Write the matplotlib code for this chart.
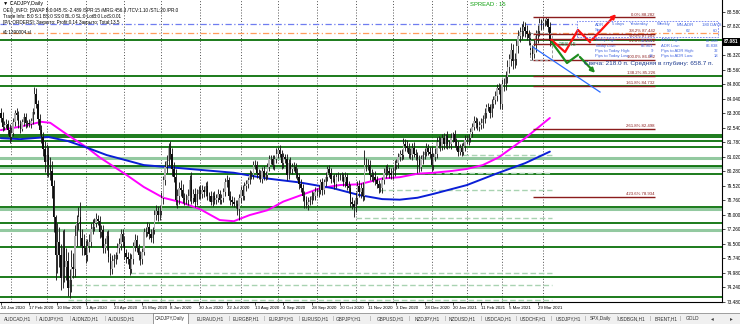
import matplotlib
matplotlib.use('Agg')
import matplotlib.pyplot as plt
import numpy as np
import pandas as pd
from matplotlib.patches import Rectangle

plt.rcParams['font.family'] = ['Liberation Sans', 'DejaVu Sans']

W, H = 740, 324

# ---------------- data ----------------
first_open = 83.30
closes = [
    83.05, 82.60, 82.70, 82.75, 82.45, 82.05,
    82.25, 82.85, 83.30, 83.20, 82.75, 82.50, 82.85, 83.10, 82.80, 82.80, 82.75, 82.90, 83.35, 84.30, 83.80, 83.00, 82.40, 82.05, 81.45, 80.75,
    81.10, 80.60, 80.30, 79.50, 77.90, 75.90, 76.60, 75.90, 74.70, 76.30, 75.30, 75.60, 74.20, 74.60, 75.30, 75.20, 76.90, 77.60, 77.90, 76.80, 76.40, 76.30,
    75.90, 76.40, 76.60, 77.30, 77.40, 77.60, 77.80, 77.70, 77.10, 77.20, 76.30, 76.50, 76.90, 75.80, 75.20, 75.60, 75.70, 75.90, 76.30, 76.50, 77.00, 76.60,
    76.00, 75.80, 75.70, 75.20, 75.70, 76.40, 76.70, 76.30, 75.90, 75.70, 76.10, 77.10, 77.10, 77.40, 77.00, 76.80, 77.20, 78.00, 78.20, 78.00, 78.20,
    78.90, 79.80, 80.50, 80.80, 81.50, 81.20, 80.40, 80.00, 78.80, 79.00, 79.40, 79.30, 78.90, 78.80, 78.80, 79.00, 79.80, 78.90, 79.10, 78.70, 79.10, 79.30,
    79.10, 79.30, 79.20, 79.50, 79.00, 79.00, 78.70, 79.00, 78.80, 78.90, 79.10, 78.80, 78.90, 79.20, 79.70, 79.80, 79.00, 78.80, 78.70, 78.60, 78.60, 78.30, 78.90,
    79.30, 79.00, 79.50, 79.60, 79.80, 80.10, 80.10, 80.60, 80.60, 80.20, 80.10, 79.90, 80.30, 80.00, 80.10, 80.50, 80.90, 80.90, 80.60, 80.90, 81.20,
    81.40, 81.20, 80.70, 81.00, 80.90, 80.10, 80.70, 80.40, 80.50, 80.50, 80.20, 80.00, 79.60, 79.40, 79.00, 78.80, 78.50, 78.70, 78.80, 79.00, 79.00, 79.20,
    79.20, 79.30, 79.70, 79.30, 79.70, 80.00, 80.40, 80.20, 79.90, 79.90, 79.60, 80.00, 80.00, 80.00, 80.00, 79.70, 80.00, 79.50, 79.40, 78.70, 78.60, 78.40,
    78.90, 79.50, 79.20, 79.40, 79.00, 80.60, 80.60, 80.60, 80.10, 80.00, 80.00, 79.80, 79.60, 79.40, 79.40, 79.80, 80.20, 80.40, 80.30, 80.20, 80.10,
    80.30, 80.60, 80.70, 81.00, 81.20, 81.10, 81.70, 81.60, 81.50, 81.20, 81.10, 81.50, 81.20, 81.10, 80.90, 80.50, 80.90, 81.10, 81.30, 81.50, 81.30, 81.20,
    80.60, 81.00, 81.20, 81.80, 81.80, 81.60, 82.00, 81.70, 82.10, 81.70, 81.70, 82.00, 82.20, 81.80, 81.60, 81.30, 81.50, 81.30, 81.60, 81.90,
    81.90, 82.00, 82.30, 82.60, 82.90, 82.80, 82.60, 82.70, 82.80, 83.00, 83.30, 83.60, 83.60, 83.30, 83.80, 84.00, 84.20, 84.60, 84.50, 83.80,
    84.80, 84.80, 85.20, 85.70, 86.10, 86.60, 86.00, 86.10, 86.80, 87.30, 87.50, 87.60, 87.80, 87.60, 87.40, 87.20, 86.60, 86.40, 86.80, 87.30, 87.60, 88.00, 88.00,
    88.10, 88.10, 88.20, 87.80, 87.081,
]
up_wick = [
    0.25, 0.30, 0.20, 0.25, 0.20, 0.30,
    0.35, 0.20, 0.15, 0.25, 0.20, 0.20, 0.15, 0.20, 0.20, 0.15, 0.20, 0.15, 0.20, 0.35, 0.30, 0.20, 0.25, 0.30, 0.25, 0.40,
    0.60, 0.50, 0.40, 0.50, 0.30, 0.10, 1.00, 0.80, 0.60, 0.90, 1.00, 0.70, 0.50, 0.60, 0.90, 0.70, 0.60, 0.40, 0.50, 0.80, 0.50, 0.60,
    0.40, 0.35, 0.40, 0.30, 0.40, 0.25, 0.30, 0.20, 0.25, 0.30, 0.30, 0.30, 0.25, 0.30, 0.25, 0.30, 0.25, 0.20, 0.25, 0.30, 0.25, 0.30,
    0.30, 0.25, 0.30, 0.30, 0.25, 0.20, 0.30, 0.25, 0.20, 0.25, 0.20, 0.25, 0.30, 0.25, 0.20, 0.25, 0.20, 0.25, 0.30, 0.25, 0.30,
    0.30, 0.25, 0.30, 0.35, 0.25, 0.35, 0.30, 0.35, 0.40, 0.35, 0.30, 0.40, 0.30, 0.25, 0.30, 0.35, 0.30, 0.45, 0.25, 0.30, 0.25, 0.20,
    0.25, 0.25, 0.20, 0.20, 0.25, 0.20, 0.25, 0.20, 0.25, 0.20, 0.25, 0.20, 0.20, 0.20, 0.25, 0.30, 0.20, 0.25, 0.20, 0.25, 0.20, 0.20, 0.20,
    0.20, 0.25, 0.20, 0.20, 0.20, 0.25, 0.20, 0.20, 0.25, 0.20, 0.20, 0.25, 0.20, 0.25, 0.20, 0.20, 0.25, 0.20, 0.25, 0.20, 0.30,
    0.15, 0.25, 0.20, 0.25, 0.20, 0.30, 0.20, 0.30, 0.20, 0.25, 0.20, 0.25, 0.20, 0.25, 0.20, 0.25, 0.20, 0.25, 0.20, 0.25, 0.20, 0.25,
    0.20, 0.25, 0.20, 0.25, 0.20, 0.25, 0.15, 0.20, 0.25, 0.20, 0.25, 0.20, 0.25, 0.20, 0.25, 0.20, 0.25, 0.20, 0.25, 0.20, 0.25, 0.20,
    0.30, 0.25, 0.30, 0.25, 0.30, 0.80, 0.35, 0.30, 0.25, 0.30, 0.25, 0.30, 0.25, 0.20, 0.25, 0.20, 0.25, 0.20, 0.25, 0.20, 0.25,
    0.20, 0.25, 0.20, 0.25, 0.20, 0.25, 0.30, 0.25, 0.30, 0.25, 0.30, 0.25, 0.30, 0.25, 0.20, 0.25, 0.20, 0.25, 0.20, 0.25, 0.20, 0.25,
    0.40, 0.25, 0.30, 0.25, 0.30, 0.25, 0.20, 0.25, 0.10, 0.25, 0.20, 0.25, 0.10, 0.25, 0.20, 0.25, 0.20, 0.25, 0.20, 0.25,
    0.25, 0.20, 0.25, 0.20, 0.25, 0.20, 0.25, 0.20, 0.25, 0.20, 0.25, 0.20, 0.25, 0.20, 0.25, 0.20, 0.25, 0.20, 0.25, 0.30,
    0.30, 0.35, 0.30, 0.35, 0.30, 0.35, 0.30, 0.35, 0.30, 0.35, 0.30, 0.35, 0.30, 0.25, 0.30, 0.25, 0.30, 0.25, 0.30, 0.35, 0.30, 0.25, 0.20,
    0.15, 0.10, 0.082, 0.05, 0.25,
]
dn_wick = [
    0.20, 0.25, 0.20, 0.15, 0.30, 0.30,
    0.20, 0.15, 0.20, 0.25, 0.20, 0.25, 0.15, 0.20, 0.25, 0.20, 0.15, 0.20, 0.15, 0.10, 0.25, 0.30, 0.25, 0.30, 0.40, 0.50,
    0.70, 0.60, 0.50, 0.60, 0.80, 1.30, 0.90, 0.60, 0.60, 0.50, 0.80, 0.70, 0.40, 0.50, 0.60, 0.50, 0.40, 0.50, 0.40, 0.40, 0.50, 0.40,
    0.40, 0.30, 0.30, 0.25, 0.30, 0.25, 0.20, 0.20, 0.30, 0.25, 0.30, 0.25, 0.30, 0.25, 0.30, 0.25, 0.30, 0.25, 0.20, 0.25, 0.30, 0.25,
    0.30, 0.30, 0.25, 0.30, 0.20, 0.25, 0.25, 0.20, 0.25, 0.30, 0.25, 0.20, 0.25, 0.20, 0.25, 0.20, 0.25, 0.20, 0.25, 0.30, 0.25,
    0.20, 0.30, 0.25, 0.30, 0.25, 0.30, 0.35, 0.30, 0.30, 0.45, 0.40, 0.30, 0.25, 0.30, 0.25, 0.30, 0.25, 0.30, 0.25, 0.30, 0.20, 0.25,
    0.25, 0.20, 0.25, 0.20, 0.20, 0.25, 0.20, 0.25, 0.20, 0.25, 0.20, 0.25, 0.20, 0.20, 0.20, 0.25, 0.20, 0.30, 0.25, 0.20, 0.25, 0.30, 0.55,
    0.25, 0.20, 0.20, 0.25, 0.20, 0.20, 0.25, 0.20, 0.20, 0.25, 0.20, 0.20, 0.25, 0.20, 0.20, 0.25, 0.20, 0.25, 0.20, 0.25, 0.20,
    0.25, 0.20, 0.30, 0.25, 0.20, 0.30, 0.25, 0.20, 0.25, 0.20, 0.25, 0.20, 0.25, 0.20, 0.25, 0.45, 0.15, 0.25, 0.20, 0.25, 0.20, 0.20,
    0.20, 0.25, 0.20, 0.25, 0.20, 0.20, 0.25, 0.20, 0.25, 0.20, 0.25, 0.20, 0.25, 0.20, 0.25, 0.20, 0.25, 0.20, 0.25, 0.30, 0.30, 0.50,
    0.25, 0.30, 0.25, 0.30, 0.25, 0.20, 0.30, 0.25, 0.30, 0.25, 0.30, 0.25, 0.20, 0.25, 0.20, 0.25, 0.20, 0.25, 0.20, 0.25, 0.20,
    0.20, 0.25, 0.20, 0.25, 0.20, 0.25, 0.20, 0.25, 0.20, 0.25, 0.20, 0.25, 0.20, 0.25, 0.70, 0.25, 0.20, 0.25, 0.20, 0.25, 0.20, 0.25,
    0.30, 0.25, 0.20, 0.25, 0.30, 0.25, 0.20, 0.25, 0.20, 0.25, 0.20, 0.25, 0.20, 0.25, 0.20, 0.25, 0.20, 0.25, 0.20, 0.25,
    0.20, 0.25, 0.20, 0.25, 0.20, 0.25, 0.20, 0.25, 0.20, 0.25, 0.20, 0.25, 0.20, 0.25, 0.20, 0.25, 0.20, 0.25, 0.20, 0.30,
    0.30, 0.35, 0.30, 0.35, 0.30, 0.35, 0.40, 0.35, 0.30, 0.35, 0.30, 0.35, 0.30, 0.35, 0.30, 0.35, 0.40, 0.318, 0.25, 0.30, 0.35, 0.30, 0.35,
    0.30, 0.25, 0.20, 0.25, 0.30,
]

# moving averages (bar index, price)
ma_fast_bars = [0, 11, 23, 28, 38, 49, 56, 71, 81, 92, 102, 113, 124, 132, 141, 151, 160, 169, 181, 192,
                203, 216, 226, 236, 245, 256, 264, 273, 282, 297, 311]
ma_fast_vals = [82.42, 82.60, 82.85, 82.80, 82.16, 81.50, 81.00, 80.10, 79.46, 78.90, 78.67, 78.30, 77.74, 77.68,
                78.00, 78.25, 78.70, 79.00, 79.40, 79.56, 79.60, 79.90, 79.97, 80.15, 80.20, 80.30, 80.40, 80.60,
                81.00, 82.00, 83.05]
ma_slow_bars = [0, 11, 27, 38, 49, 60, 71, 81, 94, 113, 132, 151, 169, 188, 203, 216, 226, 236, 245, 264, 282, 297, 311]
ma_slow_vals = [82.00, 81.95, 82.06, 81.85, 81.50, 81.12, 80.85, 80.60, 80.50, 80.35, 80.20, 79.90, 79.70, 79.40,
                79.04, 78.83, 78.80, 78.90, 79.10, 79.56, 80.20, 80.70, 81.30]

# horizontal levels
dark_levels = [87.108, 85.235, 84.714, 82.165, 82.06, 81.853, 81.54, 80.552, 80.136, 78.419, 77.586, 76.338, 74.777, 73.736]
light_levels = [80.968, 80.50, 78.315, 77.222]
dash_levels = [74.985, 74.36, 73.58, 77.83, 79.30, 81.12, 80.20]
dash_start_bars = [73, 38, 38, 201, 215, 262, 237]

# fibonacci
fib_pcts = ['0.0%', '38.2%', '50.0%', '61.8%', '100.0%', '138.2%', '161.8%', '261.8%', '423.6%']
fib_prices = [88.282, 87.442, 87.182, 86.922, 86.082, 85.226, 84.732, 82.498, 78.934]

# drawn objects (bar index, price)
red_path_bars = [312, 319.6, 326.9, 333.7, 349.6]
red_path_prices = [87.108, 86.48, 87.63, 87.00, 88.56]
green_path_bars = [312, 320.7, 326.9, 337.7]
green_path_prices = [87.00, 85.91, 86.33, 85.29]
blue_ray_bars = [301.4, 339.4]
blue_ray_prices = [86.74, 84.40]

y_ticks = [88.580, 87.820, 86.320, 85.560, 84.800, 84.040, 83.300, 82.540, 81.780, 81.020, 80.280,
           79.520, 78.760, 78.000, 77.260, 76.500, 75.740, 74.980, 74.240, 73.480]
last_price = 87.081

tabs = ['AUDCAD,H1', 'AUDJPY,H1', 'AUDNZD,H1', 'AUDUSD,H1', 'CADJPY,Daily', 'EURAUD,H1', 'EURGBP,H1',
        'EURJPY,H1', 'EURUSD,H1', 'GBPJPY,H1', 'GBPUSD,H1', 'NZDJPY,H1', 'NZDUSD,H1', 'USDCAD,H1',
        'USDCHF,H1', 'USDJPY,H1', 'SPX,Daily', 'USDBGN,H1', 'BRENT,H1', 'GOLD']
tab_x = [18, 52, 86, 122, 170, 210, 246, 281, 315, 349, 390, 427, 462, 498, 533, 568, 600, 632, 666, 693]

# ---------------- build ----------------
dates = pd.bdate_range('2020-01-24', '2021-04-07')
dates = dates[~dates.isin(pd.to_datetime(['2020-12-25', '2021-01-01']))]
n = min(len(dates), len(closes), len(up_wick), len(dn_wick))
c = np.array(closes[:n])
o = np.array(([first_open] + closes[:-1])[:n])
hi = np.maximum(o, c) + np.array(up_wick[:n])
lo = np.minimum(o, c) - np.array(dn_wick[:n])
idx = np.arange(n)

fig = plt.figure(figsize=(W / 100, H / 100), dpi=100)
fig.patch.set_facecolor('white')
ax = fig.add_axes([0, 22 / H, 722 / W, 302 / H])
ax.set_facecolor('white')
XL = (-0.45, 408.5)
YL = (73.476, 89.189)
ax.set_xlim(*XL)
ax.set_ylim(*YL)

def ftext(x, y, s, **kw):
    kw.setdefault('va', 'center')
    fig.text(x / W, 1 - y / H, s, **kw)

# monthly grid
month_starts = [i for i in range(1, n) if dates[i].month != dates[i - 1].month]
ax.vlines(month_starts, YL[0], YL[1], colors='#3a3a3a', lw=0.6, linestyles=(0, (1.2, 2.2)), zorder=1)

# levels
for p in light_levels:
    ax.axhline(p, color='#93c9a0', lw=2.2, zorder=2)
for p in dark_levels:
    ax.axhline(p, color='#006b00', lw=1.25, zorder=2)
for p, s in zip(dash_levels, dash_start_bars):
    ax.hlines(p, s, n, colors='#a9d3b2', lw=1.0, linestyles=(0, (4, 2)), zorder=2)

# dash-dot lines
ax.hlines(87.94, XL[0], 326, colors='#6f7df0', lw=0.9, linestyles=(0, (5, 2, 1, 2)), zorder=2)
ax.hlines(87.47, XL[0], 406, colors='#ff9c5c', lw=0.9, linestyles=(0, (5, 2, 1, 2)), zorder=2)

# moving averages
ax.plot(ma_fast_bars, ma_fast_vals, color='#ff00ff', lw=1.4, zorder=5, solid_capstyle='round')
ax.plot(ma_slow_bars, ma_slow_vals, color='#0a1ed6', lw=1.4, zorder=5, solid_capstyle='round')

# candles
up = c >= o
ax.vlines(idx, lo, hi, colors='#1c1c1c', lw=0.65, zorder=6)
ax.bar(idx[up], (c - o)[up], bottom=o[up], width=0.8, color='#b0b0b0', lw=0, zorder=7)
ax.bar(idx[~up], (c - o)[~up], bottom=o[~up], width=0.8, color='#0e0e0e', lw=0, zorder=7)

# fibonacci
ax.hlines(fib_prices, 301.5, 370.5, colors='#8b1c1c', lw=1.0, zorder=8)
for lab, p in zip(fib_pcts, fib_prices):
    ax.text(370.5, p + 0.04, f'{lab} {p:.3f}', ha='right', va='bottom', fontsize=3.1, color='#8b1c1c', zorder=9)

# range box
ax.add_patch(Rectangle((299.8, 86.07), 12.4, 1.40, fill=False, ec='#9a9a9a', lw=0.7, ls=(0, (3, 2)), zorder=8))

# arrows
ax.plot(red_path_bars[:-1], red_path_prices[:-1], color='#ff1010', lw=1.6, zorder=10)
ax.annotate('', xy=(red_path_bars[-1], red_path_prices[-1]), xytext=(red_path_bars[-2], red_path_prices[-2]),
            arrowprops=dict(arrowstyle='-|>', color='#ff1010', lw=1.6, mutation_scale=6), zorder=10)
ax.plot(green_path_bars[:-1], green_path_prices[:-1], color='#1e8c1e', lw=1.6, zorder=10)
ax.annotate('', xy=(green_path_bars[-1], green_path_prices[-1]), xytext=(green_path_bars[-2], green_path_prices[-2]),
            arrowprops=dict(arrowstyle='-|>', color='#1e8c1e', lw=1.6, mutation_scale=6), zorder=10)
ax.plot(blue_ray_bars, blue_ray_prices, color='#2b6cff', lw=0.9, zorder=10)

# axes styling
for s in ['top', 'left']:
    ax.spines[s].set_visible(False)
ax.spines['right'].set_linewidth(0.8)
ax.spines['bottom'].set_linewidth(0.8)
ax.yaxis.tick_right()
ax.set_yticks(y_ticks)
ax.set_yticklabels([f'{v:.3f}' for v in y_ticks])
ax.tick_params(axis='y', direction='out', length=2, width=0.5, pad=1.2, labelsize=3.4)
xt = list(range(0, n, 16))
ax.set_xticks(xt)
ax.set_xticklabels([f'{dates[i].day} {dates[i].strftime("%b %Y")}' for i in xt])
ax.tick_params(axis='x', direction='out', length=2, width=0.5, pad=1.2, labelsize=3.2)
for t in ax.get_xticklabels():
    t.set_ha('left')

# price box
fig.add_artist(Rectangle((722 / W, 1 - 45.5 / H), 18 / W, 8 / H, transform=fig.transFigure,
                         fc='black', ec='none', zorder=20))
ftext(723.5, 41.5, f'{last_price:.3f}', fontsize=3.4, color='white', fontweight='bold', zorder=21)

# top-left info
ftext(3, 4, '\u25bc CADJPY,Daily', fontsize=3.8, color='black')
ftext(3, 10.5, 'OEO_INFO: [SWAP B:0.045 /S:-2.489 /SPR:15 /MRG:456.3 /TCV:1.10 /STL:20 /PR:0', fontsize=3.3, color='black')
ftext(3, 16.5, 'Trade Info: B:0 S:1 BS:0 SS:0 BL:0 SL:0 LotB:0 LotS:0.01', fontsize=3.3, color='black')
ftext(3, 22.5, '[P/L ORDERS]: Закрыто: Profit:0.14 Закрыто: Total:13.5', fontsize=3.3, color='black')
ftext(3, 33, '#1:1390004.sl', fontsize=3.3, color='black')
ftext(470, 5, 'SPREAD : 15', fontsize=4.2, color='#10a010')

# info table
blue = '#3f63e0'
fig.add_artist(Rectangle((577 / W, 1 - 37 / H), 141 / W, 16 / H, transform=fig.transFigure,
                         fill=False, ec='#6f7df0', lw=0.6, ls=(0, (2, 1.5)), zorder=15))
for x, s in zip([595, 612, 630, 657, 677, 702], ['ADR', '5 days', 'Yesterday', 'Weekly', 'MN-ADR', '180 DAYS']):
    ftext(x, 24.5, s, fontsize=3.1, color=blue, zorder=16)
for x, s in zip([595, 667, 686, 713], ['Spr', '59', '62', '60']):
    ftext(x, 30.5, s, fontsize=3.1, color=blue, zorder=16)
rows = [('Today High:', '87.171', 'ADR High:', '87.398'),
        ('Today Low:', '86.901', 'ADR Low:', '86.838'),
        ('Pips to Today High:', '9', 'Pips to ADR High:', '32'),
        ('Pips to Today Low:', '18', 'Pips to ADR Low:', '18')]
for k, (a, b, cc, d) in enumerate(rows):
    y = 40.5 + 5.3 * k
    ftext(595, y, a, fontsize=3.0, color=blue, zorder=16)
    ftext(653, y, b, fontsize=3.0, color=blue, ha='right', zorder=16)
    ftext(661, y, cc, fontsize=3.0, color=blue, zorder=16)
    ftext(718, y, d, fontsize=3.0, color=blue, ha='right', zorder=16)
ftext(558, 45, '-258.45', fontsize=4.0, color='#2e9e5e', zorder=16)
ftext(584, 63.5, 'Свеча: 218.0 п. Средняя в глубину: 658.7 п.', fontsize=4.6, color='#1c3a8e', zorder=16)

# tab strip
fig.add_artist(Rectangle((0, 0), 1, 11 / H, transform=fig.transFigure, fc='#f0f0f0', ec='none', zorder=20))
fig.add_artist(Rectangle((0, 11 / H - 0.5 / H), 1, 0.7 / H, transform=fig.transFigure, fc='#a0a0a0', ec='none', zorder=21))
fig.add_artist(Rectangle((153 / W, 0.5 / H), 35 / W, 10.5 / H, transform=fig.transFigure, fc='white', ec='#707070',
                         lw=0.5, zorder=22))
for k, (x, s) in enumerate(zip(tab_x, tabs)):
    ftext(x, 318.5, s, fontsize=3.4, color='#303030', ha='center', zorder=23)
    if k < len(tabs) - 1 and k not in (3, 4):
        ftext((x + tab_x[k + 1]) / 2 + 1, 318.5, '|', fontsize=3.6, color='#909090', ha='center', zorder=23)
ftext(712, 318.5, '\u25c2', fontsize=4, color='#404040', ha='center', zorder=23)
ftext(731, 318.5, '\u25b8', fontsize=4, color='#404040', ha='center', zorder=23)

fig.savefig('out.png', dpi=100, facecolor='white')
